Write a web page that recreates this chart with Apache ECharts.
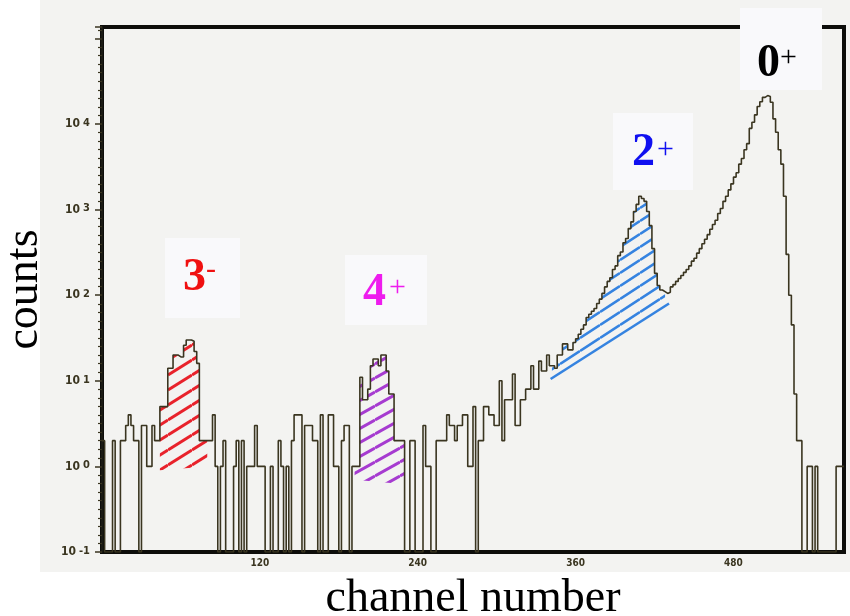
<!DOCTYPE html>
<html>
<head>
<meta charset="utf-8">
<script src="https://cdn.jsdelivr.net/npm/echarts@6/dist/echarts.min.js"></script>
<style>
  html, body { margin: 0; background: #ffffff; }
  #chart { width: 850px; height: 616px; }
</style>
</head>
<body>
<div id="chart"></div>
<script>
// spectrum, 2 channels per bin, channel 0..564
const binWidth = 2
const channelMax = 564
const counts = [
  2, 0, 0, 0, 2, 0, 0, 2, 2, 3, 4, 3, 2, 2, 0, 3, 3, 1, 1, 3,
  2, 2, 5, 5, 5, 14, 14, 20, 20, 19, 19, 26, 30, 30, 29, 22, 16, 2, 2, 2,
  2, 2, 4, 1, 0, 1, 2, 0, 0, 0, 1, 2, 0, 2, 0, 1, 1, 1, 3, 1,
  1, 1, 0, 0, 1, 0, 0, 2, 1, 0, 1, 0, 2, 4, 4, 4, 0, 3, 3, 3,
  2, 2, 0, 4, 0, 0, 4, 4, 1, 1, 0, 2, 3, 3, 0, 1, 1, 1, 11, 6,
  6, 8, 15, 18, 18, 15, 20, 20, 13, 7, 7, 2, 2, 2, 2, 0, 0, 2, 2, 0,
  0, 0, 3, 1, 1, 0, 0, 2, 2, 2, 2, 4, 3, 3, 2, 3, 3, 4, 4, 1,
  1, 5, 0, 2, 2, 5, 5, 4, 4, 3, 3, 10, 2, 6, 6, 6, 12, 3, 3, 6,
  6, 8, 8, 15, 8, 8, 17, 13, 13, 20, 15, 15, 14, 20, 20, 27, 27, 23, 23, 28,
  31, 35, 40, 45, 55, 60, 65, 70, 80, 90, 105, 125, 145, 160, 200, 220, 290, 320, 410, 460,
  600, 720, 950, 1150, 1430, 1350, 1250, 950, 650, 350, 180, 130, 115, 110, 105, 108, 125, 133, 145, 157,
  170, 185, 200, 220, 250, 270, 310, 350, 400, 450, 510, 590, 670, 750, 900, 1030, 1250, 1430, 1700, 2000,
  2400, 2700, 3400, 3950, 5000, 5900, 8900, 10500, 12800, 16000, 18200, 20500, 21500, 21000, 18000, 11500, 8000, 5000, 3400, 1430,
  300, 100, 45, 7, 2, 2, 0, 0, 1, 1, 0, 1, 0, 0, 0, 0, 0, 0, 0, 1,
  1, 1
]
// empty channels sit on the 10^-1 floor, as on the original plot
const floorValue = 0.1

const xTickLabels = [120, 240, 360, 480]
const yTickExponents = [-1, 0, 1, 2, 3, 4]
const yMin = 0.1
const yMax = 136000

// hand drawn hatching under the peaks: channel range and background under it
const peakNames = ['3-', '4+', '2+']
const peakFrom = [44, 192, 342]
const peakTo = [80, 230, 428]
const peakBaseStart = [0.9, 0.7, 10.7]
const peakBaseEnd = [1.0, 0.62, 77]
const peakColors = ['#e8222b', '#a63bd0', '#3583e0']

// drawn background line below the 2+ peak
const bgLine = [[341, 10.5], [431, 80]]

const labelColors = { '0+': '#000000', '2+': '#1010f0', '3-': '#f01010', '4+': '#ee1cee' }
// annotation boxes (screen layout)
const annotations = [
  { digit: '0', sup: '+', key: '0+', box: [740, 8, 82, 82], dx: 757, dy: 64, sx: 780, sy: 58 },
  { digit: '2', sup: '+', key: '2+', box: [613, 113, 80, 77], dx: 632, dy: 153, sx: 657, sy: 150 },
  { digit: '3', sup: '-', key: '3-', box: [165, 238, 75, 80], dx: 183, dy: 278, sx: 206, sy: 270 },
  { digit: '4', sup: '+', key: '4+', box: [345, 255, 82, 70], dx: 363, dy: 293, sx: 389, sy: 288 },
]

const ink = '#3a3520'

function hatchPattern(color, w, h, lw) {
  const c = document.createElement('canvas')
  c.width = w
  c.height = h
  const ctx = c.getContext('2d')
  ctx.strokeStyle = color
  ctx.lineWidth = lw
  for (let n = -1; n <= 1; n++) {
    ctx.beginPath()
    ctx.moveTo(0, h + n * h)
    ctx.lineTo(w, n * h)
    ctx.stroke()
  }
  return c
}

const patterns = [
  hatchPattern(peakColors[0], 24, 15, 3),
  hatchPattern(peakColors[1], 25, 14, 3),
  hatchPattern(peakColors[2], 20, 13, 2.6),
]

const histData = counts.map((c, i) => [i * binWidth, Math.max(c, floorValue)])
histData.push([channelMax, Math.max(counts[counts.length - 1], floorValue)])

const chart = echarts.init(document.getElementById('chart'))

const graphics = [
  { type: 'rect', z: -10, shape: { x: 40, y: 0, width: 810, height: 572 }, style: { fill: '#f3f3f1' } },
]
annotations.forEach(a => {
  graphics.push({ type: 'rect', z: 50, shape: { x: a.box[0], y: a.box[1], width: a.box[2], height: a.box[3] }, style: { fill: '#f9f9fb' } })
  graphics.push({ type: 'text', z: 51, x: a.dx, y: a.dy, style: { text: a.digit, fill: labelColors[a.key], font: 'bold 46px "Liberation Serif"', align: 'left', verticalAlign: 'middle' } })
  graphics.push({ type: 'text', z: 51, x: a.sx, y: a.sy, style: { text: a.sup, fill: labelColors[a.key], font: '30px "Liberation Serif"', align: 'left', verticalAlign: 'middle' } })
})

chart.setOption({
  animation: false,
  backgroundColor: 'transparent',
  grid: {
    left: 102, right: 6, top: 27, bottom: 64,
    outerBoundsMode: 'none',
    show: true, borderColor: '#0d0d0a', borderWidth: 4, backgroundColor: 'transparent',
  },
  xAxis: {
    type: 'value', min: 0, max: channelMax, interval: 120,
    axisLine: { show: false },
    axisTick: { show: false },
    splitLine: { show: false },
    axisLabel: {
      margin: 6,
      color: ink, fontSize: 10, fontWeight: 'bold', fontFamily: 'DejaVu Sans Condensed',
      formatter: v => (xTickLabels.includes(v) ? String(v) : ''),
    },
    name: 'channel number', nameLocation: 'middle', nameGap: 24,
    nameTextStyle: { fontFamily: 'Liberation Serif', fontSize: 46, color: '#000' },
  },
  yAxis: [
    {
      type: 'log', logBase: 10, min: yMin, max: yMax,
      axisLine: { show: true, lineStyle: { color: '#1a1a14', width: 2 } },
      axisTick: { show: true, length: 7, lineStyle: { color: ink, width: 1.5 } },
      minorTick: { show: false },
      splitLine: { show: false },
      axisLabel: {
        margin: 12,
        formatter: v => {
          const e = Math.round(Math.log10(v))
          return yTickExponents.includes(e) ? '{b|10}{e|' + e + '}' : ''
        },
        rich: {
          b: { fontSize: 12, fontWeight: 'bold', fontFamily: 'DejaVu Sans Condensed', color: ink },
          e: { fontSize: 11, fontWeight: 'bold', fontFamily: 'DejaVu Sans Condensed', color: ink, padding: [0, 0, 2, 3] },
        },
      },
      name: 'counts', nameLocation: 'middle', nameGap: 54,
      nameTextStyle: { fontFamily: 'Liberation Serif', fontSize: 46, color: '#000' },
    },
    {
      // printed log paper: evenly spaced small ticks along the decades
      type: 'value', position: 'left',
      min: Math.log10(yMin), max: Math.log10(yMax), interval: 1,
      axisLine: { show: false },
      axisTick: { show: false },
      minorTick: { show: true, splitNumber: 10, length: 4, lineStyle: { color: ink, width: 1.2 } },
      axisLabel: { show: false },
      splitLine: { show: false },
    },
  ],
  graphic: graphics,
  series: [
    {
      type: 'custom',
      silent: true,
      z: 2,
      data: peakNames.map((n, i) => [peakFrom[i], peakBaseStart[i]]),
      renderItem: (params, api) => {
        const i = params.dataIndex
        const from = peakFrom[i]
        const to = peakTo[i]
        const pts = [api.coord([from, peakBaseStart[i]]), api.coord([to, peakBaseEnd[i]])]
        for (let b = counts.length - 1; b >= 0; b--) {
          const x0 = b * binWidth
          const x1 = x0 + binWidth
          if (x1 <= from || x0 >= to) continue
          const v = Math.max(counts[b], floorValue)
          pts.push(api.coord([Math.min(x1, to), v]))
          pts.push(api.coord([Math.max(x0, from), v]))
        }
        return {
          type: 'polygon',
          shape: { points: pts },
          style: { fill: { image: patterns[i], repeat: 'repeat' } },
        }
      },
    },
    {
      type: 'line',
      silent: true,
      z: 3,
      data: bgLine,
      symbol: 'none',
      lineStyle: { color: peakColors[2], width: 2.6 },
    },
    {
      type: 'line',
      name: 'spectrum',
      z: 4,
      step: 'end',
      data: histData,
      symbol: 'none',
      lineStyle: { color: ink, width: 1.6 },
    },
  ],
})
</script>
</body>
</html>
